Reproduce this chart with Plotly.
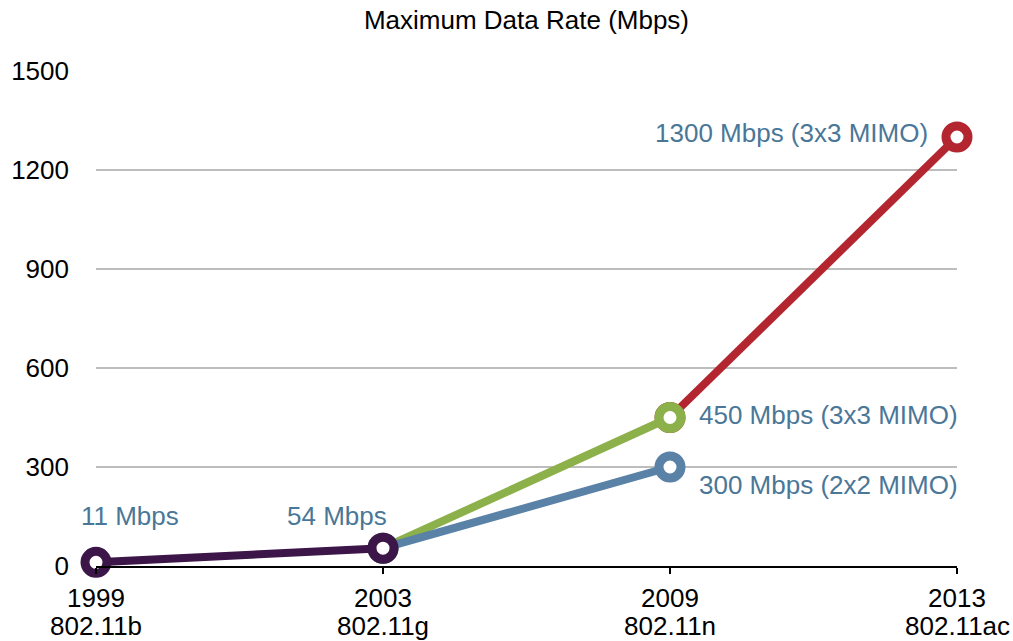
import plotly.graph_objects as go

# Wi-Fi standards and their release years
years = ["1999", "2003", "2009", "2013"]
standards = ["802.11b", "802.11g", "802.11n", "802.11ac"]

# Maximum data rate segments (Mbps), indexed by position on the year axis
seg_b_g_x = [0, 1]
seg_b_g_y = [11, 54]
seg_n2_x = [1, 2]
seg_n2_y = [54, 300]
seg_n3_x = [1, 2]
seg_n3_y = [54, 450]
seg_ac_x = [2, 3]
seg_ac_y = [450, 1300]

y_ticks = [0, 300, 600, 900, 1200, 1500]

PURPLE = "#3c1549"
BLUE = "#5a81a6"
GREEN = "#8cb04a"
RED = "#b4262f"
LABEL = "#4a7797"
FONT = "Liberation Sans, Arial, Helvetica, sans-serif"
SIZE = 26

fig = go.Figure()


def add_segment(xs, ys, color):
    fig.add_trace(go.Scatter(
        x=xs, y=ys, mode="lines+markers",
        line=dict(color=color, width=8),
        marker=dict(symbol="circle", size=22, color="white",
                    line=dict(color=color, width=9)),
        cliponaxis=False, hoverinfo="skip", showlegend=False,
    ))


# Drawn back to front so the older standards sit on top
add_segment(seg_ac_x, seg_ac_y, RED)
add_segment(seg_n3_x, seg_n3_y, GREEN)
add_segment(seg_n2_x, seg_n2_y, BLUE)
add_segment(seg_b_g_x, seg_b_g_y, PURPLE)

labels = [
    (0, 11, "11 Mbps", "center", 34, 46),
    (1, 54, "54 Mbps", "center", -46, 32),
    (2, 450, "450 Mbps (3x3 MIMO)", "left", 27, 3),
    (2, 300, "300 Mbps (2x2 MIMO)", "left", 27, -18),
    (3, 1300, "1300 Mbps (3x3 MIMO)", "right", -27, 4),
]
for x, y, text, anchor, dx, dy in labels:
    fig.add_annotation(
        x=x, y=y, text=text, showarrow=False, xanchor=anchor, yanchor="middle",
        xshift=dx, yshift=dy, font=dict(family=FONT, size=SIZE, color=LABEL),
    )

# Standard names as a second row under the year tick labels
for i, name in enumerate(standards):
    fig.add_annotation(
        x=i, xref="x", y=0, yref="paper", text=name, showarrow=False,
        xanchor="center", yanchor="middle", yshift=-60,
        font=dict(family=FONT, size=SIZE, color="black"),
    )

fig.update_layout(
    width=1013, height=641,
    margin=dict(l=96, r=56, t=71, b=75, autoexpand=False),
    paper_bgcolor="white", plot_bgcolor="white",
    font=dict(family=FONT, color="black"),
    title=dict(text="Maximum Data Rate (Mbps)", x=0.5, xref="paper", xanchor="center",
               y=1, yref="container", yanchor="top", pad=dict(t=11),
               font=dict(family=FONT, size=SIZE, color="black")),
    xaxis=dict(
        range=[0, 3], tickmode="array", tickvals=list(range(len(years))),
        ticktext=years,
        showgrid=False, zeroline=False, showline=True, linecolor="black", linewidth=2,
        ticks="outside", ticklen=6, tickwidth=2, tickcolor="black",
        ticklabelstandoff=2,
        tickfont=dict(family=FONT, size=SIZE, color="black"),
        automargin=False, fixedrange=True,
    ),
    yaxis=dict(
        range=[0, 1500], tickmode="array", tickvals=y_ticks,
        showgrid=True, gridcolor="#bdbdbd", gridwidth=2, zeroline=False,
        showline=False, ticks="", ticklabelstandoff=26,
        tickfont=dict(family=FONT, size=SIZE, color="black"),
        automargin=False, fixedrange=True,
    ),
)

fig.write_html("out.html")
